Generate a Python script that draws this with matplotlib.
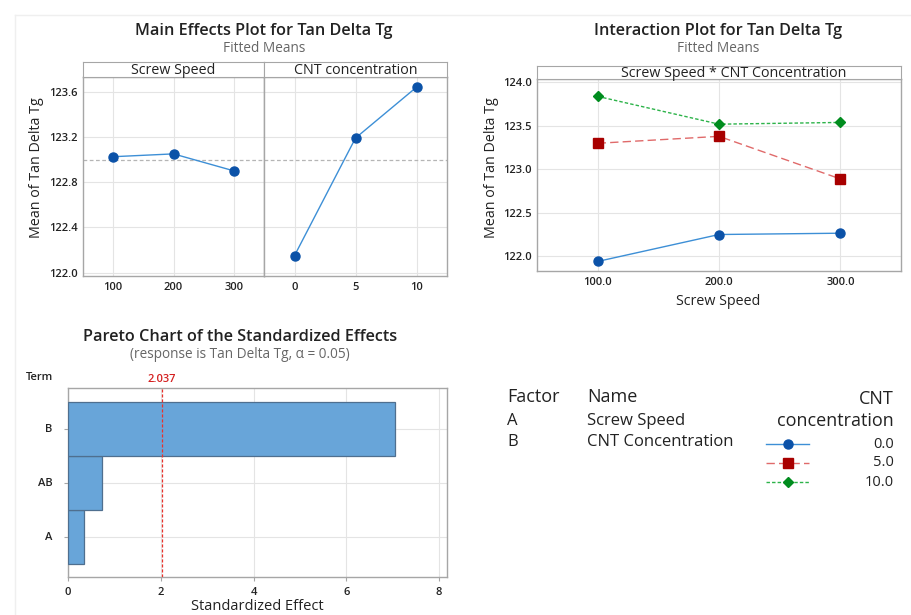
import numpy as np
import matplotlib.pyplot as plt
from matplotlib.lines import Line2D

plt.rcParams['font.family'] = ['Open Sans', 'DejaVu Sans']

# fitted means, main effects
speed_levels = [100, 200, 300]
speed_means = [123.025, 123.05, 122.90]
cnt_levels = [0, 5, 10]
cnt_means = [122.15, 123.19, 123.64]
grand_mean = 122.995

# interaction means (rows: CNT 0, 5, 10; cols: speed 100, 200, 300)
cnt_labels = ["0.0", "5.0", "10.0"]
inter_means = [
    [121.94, 122.25, 122.265],
    [123.30, 123.38, 122.89],
    [123.84, 123.52, 123.54],
]

# pareto of standardized effects
terms = ["A", "AB", "B"]
effects = [0.345, 0.74, 7.04]
t_crit = 2.037

W, H = 912, 615
fig = plt.figure(figsize=(W / 100, H / 100), dpi=100)

GRID = "#e4e4e4"
SPINE = "#a6a6a6"
TXT = "#222222"


def px_axes(x0, y0, x1, y1):
    return fig.add_axes([x0 / W, 1 - y1 / H, (x1 - x0) / W, (y1 - y0) / H])


def ftext(x, y, s, **kw):
    kw.setdefault("color", TXT)
    return fig.text(x / W, 1 - y / H, s, **kw)


def bold_ticks(ax):
    for lab in ax.get_xticklabels() + ax.get_yticklabels():
        lab.set_fontweight("semibold")


def style(ax):
    for sp in ax.spines.values():
        sp.set_color(SPINE)
        sp.set_linewidth(1.0)
    ax.tick_params(length=0, labelsize=8, colors=TXT, pad=4)
    bold_ticks(ax)
    ax.grid(True, color=GRID, linewidth=0.8)
    ax.set_axisbelow(True)


def strip(x0, y0, x1, y1, label, tx=0.5):
    s = px_axes(x0, y0, x1, y1)
    s.set_xticks([])
    s.set_yticks([])
    for sp in s.spines.values():
        sp.set_color(SPINE)
    s.text(tx, 0.45, label, ha="center", va="center", fontsize=10.3,
           color=TXT, transform=s.transAxes)
    return s


# faint page frame
fig.add_artist(Line2D([15 / W, 1], [1 - 15 / H] * 2, color="#efefef", lw=1))
fig.add_artist(Line2D([15 / W] * 2, [0, 1 - 15 / H], color="#efefef", lw=1))

# ---- main effects plot ----
ylim_me = (121.97, 123.73)
ax1 = px_axes(83, 77, 264, 276)
ax2 = px_axes(264, 77, 447, 276)
strip(83, 62, 264, 77, "Screw Speed")
strip(264, 62, 447, 77, "CNT concentration")

for ax, xs, ys, xl in [(ax1, speed_levels, speed_means, (50, 350)),
                       (ax2, cnt_levels, cnt_means, (-2.5, 12.5))]:
    ax.plot(xs, ys, color="#3d8fd6", lw=1.0, marker="o", ms=6.5,
            mfc="#0b52a8", mec="#0b52a8", zorder=3)
    ax.axhline(grand_mean, color="#b5b5b5", lw=0.9, ls=(0, (3, 2)))
    ax.set_xlim(*xl)
    ax.set_ylim(*ylim_me)
    ax.set_xticks(xs)
    ax.set_yticks([122.0, 122.4, 122.8, 123.2, 123.6])
    ax.yaxis.set_major_formatter(plt.FormatStrFormatter("%.1f"))
    style(ax)
ax2.tick_params(labelleft=False)

ftext(264, 31, "Main Effects Plot for Tan Delta Tg", ha="center",
      va="center", fontsize=11.7, fontweight="semibold")
ftext(264, 48, "Fitted Means", ha="center", va="center", fontsize=9.8,
      color="#666666")
ftext(37, 168, "Mean of Tan Delta Tg", ha="center", va="center",
      rotation=90, fontsize=10.3)

# ---- interaction plot ----
ax3 = px_axes(537, 79, 901, 271)
strip(537, 66, 901, 79, "Screw Speed * CNT Concentration", tx=0.54)
styles = [
    dict(color="#3d8fd6", ls="-", marker="o", mfc="#0b52a8", mec="#0b52a8", ms=6.5),
    dict(color="#e06a6a", ls=(0, (6, 3)), marker="s", mfc="#a80000", mec="#a80000", ms=6.5),
    dict(color="#2db34a", ls=(0, (2.5, 1.5)), marker="D", mfc="#008c1e", mec="#008c1e", ms=5.5),
]
for vals, st in zip(inter_means, styles):
    ax3.plot(speed_levels, vals, lw=1.0, zorder=3, **st)
ax3.set_xlim(50, 350)
ax3.set_ylim(121.83, 124.04)
ax3.set_xticks(speed_levels)
ax3.set_xticklabels(["100.0", "200.0", "300.0"])
ax3.set_yticks([122.0, 122.5, 123.0, 123.5, 124.0])
ax3.yaxis.set_major_formatter(plt.FormatStrFormatter("%.1f"))
style(ax3)

ftext(718, 31, "Interaction Plot for Tan Delta Tg", ha="center",
      va="center", fontsize=11.7, fontweight="semibold")
ftext(718, 48, "Fitted Means", ha="center", va="center", fontsize=9.8,
      color="#666666")
ftext(492, 168, "Mean of Tan Delta Tg", ha="center", va="center",
      rotation=90, fontsize=10.3)
ftext(718, 301, "Screw Speed", ha="center", va="center", fontsize=10.3)

# ---- pareto chart ----
ax4 = px_axes(68, 388, 447, 577)
ypos = np.arange(len(terms))
ax4.barh(ypos, effects, height=1.0, color="#68a5d9", edgecolor="#4f6f8f",
         linewidth=0.9, zorder=3)
ax4.axvline(t_crit, color="#e8322c", lw=0.9, ls=(0, (2.5, 1.5)), zorder=4)
ax4.set_xlim(0, 8.17)
ax4.set_ylim(-0.75, 2.75)
ax4.set_yticks(ypos)
ax4.set_yticklabels(terms)
ax4.set_xticks([0, 2, 4, 6, 8])
style(ax4)
ax4.tick_params(axis="y", length=3, color=SPINE, pad=8)
ax4.tick_params(axis="x", length=3, color=SPINE)

ftext(240, 337, "Pareto Chart of the Standardized Effects", ha="center",
      va="center", fontsize=11.7, fontweight="semibold")
ftext(240, 354, "(response is Tan Delta Tg, \u03b1 = 0.05)", ha="center",
      va="center", fontsize=9.8, color="#666666")
ftext(40, 378, "Term", ha="center", va="center", fontsize=8,
      fontweight="semibold")
ftext(162, 379, f"{t_crit:.3f}", ha="center", va="center", fontsize=8,
      color="#d42020", fontweight="semibold")
ftext(257, 607, "Standardized Effect", ha="center", va="center", fontsize=10.5)

# ---- factor table and legend ----
ftext(507, 397, "Factor", ha="left", va="center", fontsize=13)
ftext(587, 397, "Name", ha="left", va="center", fontsize=13)
ftext(507, 421, "A", ha="left", va="center", fontsize=12)
ftext(587, 421, "Screw Speed", ha="left", va="center", fontsize=12)
ftext(507, 442, "B", ha="left", va="center", fontsize=12)
ftext(587, 442, "CNT Concentration", ha="left", va="center", fontsize=12)
ftext(894, 399, "CNT", ha="right", va="center", fontsize=13)
ftext(894, 421, "concentration", ha="right", va="center", fontsize=13)

leg_y = [444, 463, 482]
for lab, st, y in zip(cnt_labels, styles, leg_y):
    fy = 1 - y / H
    fig.add_artist(Line2D([766 / W, 809 / W], [fy, fy], lw=1.0,
                          color=st["color"], ls=st["ls"]))
    fig.add_artist(Line2D([788 / W], [fy], marker=st["marker"],
                          mfc=st["mfc"], mec=st["mec"], ms=st["ms"], lw=0))
    ftext(894, y, lab, ha="right", va="center", fontsize=10.5)

fig.savefig("out.png", dpi=100, facecolor="white")
